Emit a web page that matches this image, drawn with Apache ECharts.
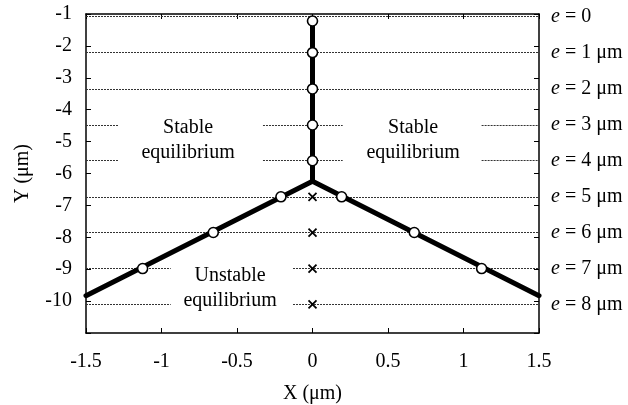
<!DOCTYPE html>
<html>
<head>
<meta charset="utf-8">
<script src="https://cdn.jsdelivr.net/npm/echarts@6/dist/echarts.min.js"></script>
<style>
  html, body { margin: 0; padding: 0; background: #fff; }
  #chart { width: 628px; height: 405px; }
</style>
</head>
<body>
<div id="chart"></div>
<script>
// Equilibrium levels for each offset e (Y in µm) and their labels
const levelY = [-1.08, -2.21, -3.35, -4.48, -5.6, -6.73, -7.85, -8.98, -10.1];
const levelNames = ['0', '1 μm', '2 μm', '3 μm', '4 μm', '5 μm', '6 μm', '7 μm', '8 μm'];

// Stable points on the symmetric axis
const stemX = [0, 0, 0, 0, 0];
const stemY = [-1.22, -2.21, -3.35, -4.48, -5.6];

// Stable points on the two branches after bifurcation
const branchLeftX = [-0.209, -0.657, -1.125];
const branchRightX = [0.193, 0.674, 1.12];
const branchY = [-6.73, -7.85, -8.98];

// Unstable points remaining on the axis
const crossX = [0, 0, 0, 0];
const crossY = [-6.73, -7.85, -8.98, -10.1];

// Equilibrium path: stem top, junction and branch ends
const pathX = [0, 0, -1.5, 1.5];
const pathY = [-1.22, -6.24, -9.83, -9.83];

// Open stretches of each dotted level line (breaks leave room for the text)
const levelSpans = [
  [[-1.5, 1.5]],
  [[-1.5, 1.5]],
  [[-1.5, 1.5]],
  [[-1.5, -1.283], [-0.328, 0.2], [1.12, 1.5]],
  [[-1.5, -1.283], [-0.328, 0.2], [1.12, 1.5]],
  [[-1.5, 1.5]],
  [[-1.5, 1.5]],
  [[-1.5, -0.939], [-0.129, 1.5]],
  [[-1.5, -0.939], [-0.129, 1.5]]
];

// Region annotations (centre positions in data units)
const noteText = ['Stable\nequilibrium', 'Stable\nequilibrium', 'Unstable\nequilibrium'];
const noteX = [-0.824, 0.666, -0.546];
const noteY = [-4.96, -4.96, -9.59];

const FONT = '"Liberation Serif", "DejaVu Serif", serif';
const FS = 20;

const levelSegments = [];
levelY.forEach((y, i) => {
  levelSpans[i].forEach(s => levelSegments.push({ coords: [[s[0], y], [s[1], y]] }));
});

const chart = echarts.init(document.getElementById('chart'), null, { renderer: 'canvas' });

const axisLine = { show: true, onZero: false, lineStyle: { color: '#000', width: 1.5 } };
const tickStyle = { show: true, inside: true, length: 5, lineStyle: { color: '#000', width: 1 } };
const labelFont = { color: '#000', fontFamily: FONT, fontSize: FS };

chart.setOption({
  animation: false,
  backgroundColor: '#fff',
  grid: {
    left: 86, top: 14, right: 89, bottom: 72,
    containLabel: false, outerBoundsMode: 'none'
  },
  xAxis: [
    {
      type: 'value', position: 'bottom', min: -1.5, max: 1.5, interval: 0.5,
      axisLine, axisTick: tickStyle, splitLine: { show: false },
      axisLabel: Object.assign({ margin: 19 }, labelFont),
      name: 'X (μm)', nameLocation: 'middle', nameGap: 51,
      nameTextStyle: { color: '#000', fontFamily: FONT, fontSize: FS }
    },
    {
      type: 'value', position: 'top', min: -1.5, max: 1.5, interval: 0.5,
      axisLine, axisTick: tickStyle, splitLine: { show: false },
      axisLabel: { show: false }
    }
  ],
  yAxis: [
    {
      type: 'value', position: 'left', min: -11, max: -1, interval: 1,
      axisLine, axisTick: tickStyle, splitLine: { show: false },
      axisLabel: Object.assign({
        margin: 14,
        formatter: v => (v === -11 ? '' : String(v))
      }, labelFont),
      name: 'Y (μm)', nameLocation: 'middle', nameGap: 53, nameRotate: 90,
      nameTextStyle: { color: '#000', fontFamily: FONT, fontSize: FS }
    },
    {
      type: 'value', position: 'right', min: -11, max: -1, interval: 1,
      axisLine, axisTick: tickStyle, splitLine: { show: false },
      axisLabel: { show: false }
    }
  ],
  series: [
    {
      name: 'levels',
      type: 'lines',
      coordinateSystem: 'cartesian2d',
      polyline: false,
      silent: true,
      z: 1,
      lineStyle: { color: '#333', width: 1, type: [2, 1], opacity: 1 },
      data: levelSegments
    },
    {
      name: 'level labels',
      type: 'scatter',
      clip: false,
      silent: true,
      symbolSize: 0,
      z: 1,
      itemStyle: { opacity: 1 },
      data: levelY.map((y, i) => ({ value: [1.5, y], name: levelNames[i] })),
      label: {
        show: true,
        position: 'right',
        distance: 12,
        formatter: p => '{i|e} = ' + p.name,
        color: '#000',
        fontFamily: FONT,
        fontSize: FS,
        rich: { i: { fontStyle: 'italic', fontFamily: FONT, fontSize: FS, color: '#000' } }
      }
    },
    {
      name: 'region notes',
      type: 'scatter',
      silent: true,
      symbolSize: 0,
      z: 2,
      itemStyle: { opacity: 1 },
      data: noteText.map((t, i) => ({ value: [noteX[i], noteY[i]], name: t })),
      label: {
        show: true,
        position: 'inside',
        formatter: p => p.name,
        color: '#000',
        fontFamily: FONT,
        fontSize: FS,
        lineHeight: 25,
        align: 'center',
        verticalAlign: 'middle'
      }
    },
    {
      name: 'path stem',
      type: 'line',
      symbol: 'none',
      z: 3,
      lineStyle: { color: '#000', width: 5, cap: 'round', join: 'round' },
      data: [[pathX[0], pathY[0]], [pathX[1], pathY[1]], [pathX[2], pathY[2]]]
    },
    {
      name: 'path right',
      type: 'line',
      symbol: 'none',
      z: 3,
      lineStyle: { color: '#000', width: 5, cap: 'round', join: 'round' },
      data: [[pathX[1], pathY[1]], [pathX[3], pathY[3]]]
    },
    {
      name: 'unstable',
      type: 'scatter',
      z: 4,
      symbol: 'path://M0,0L10,10M10,0L0,10',
      symbolSize: 8,
      itemStyle: { color: 'rgba(0,0,0,0)', borderColor: '#000', borderWidth: 1.8, opacity: 1 },
      data: crossX.map((x, i) => [x, crossY[i]])
    },
    {
      name: 'stable',
      type: 'scatter',
      z: 5,
      symbol: 'circle',
      symbolSize: 10,
      itemStyle: { color: '#fff', borderColor: '#000', borderWidth: 1.6, opacity: 1 },
      data: stemX.map((x, i) => [x, stemY[i]])
        .concat(branchLeftX.map((x, i) => [x, branchY[i]]))
        .concat(branchRightX.map((x, i) => [x, branchY[i]]))
    }
  ]
});
</script>
</body>
</html>
